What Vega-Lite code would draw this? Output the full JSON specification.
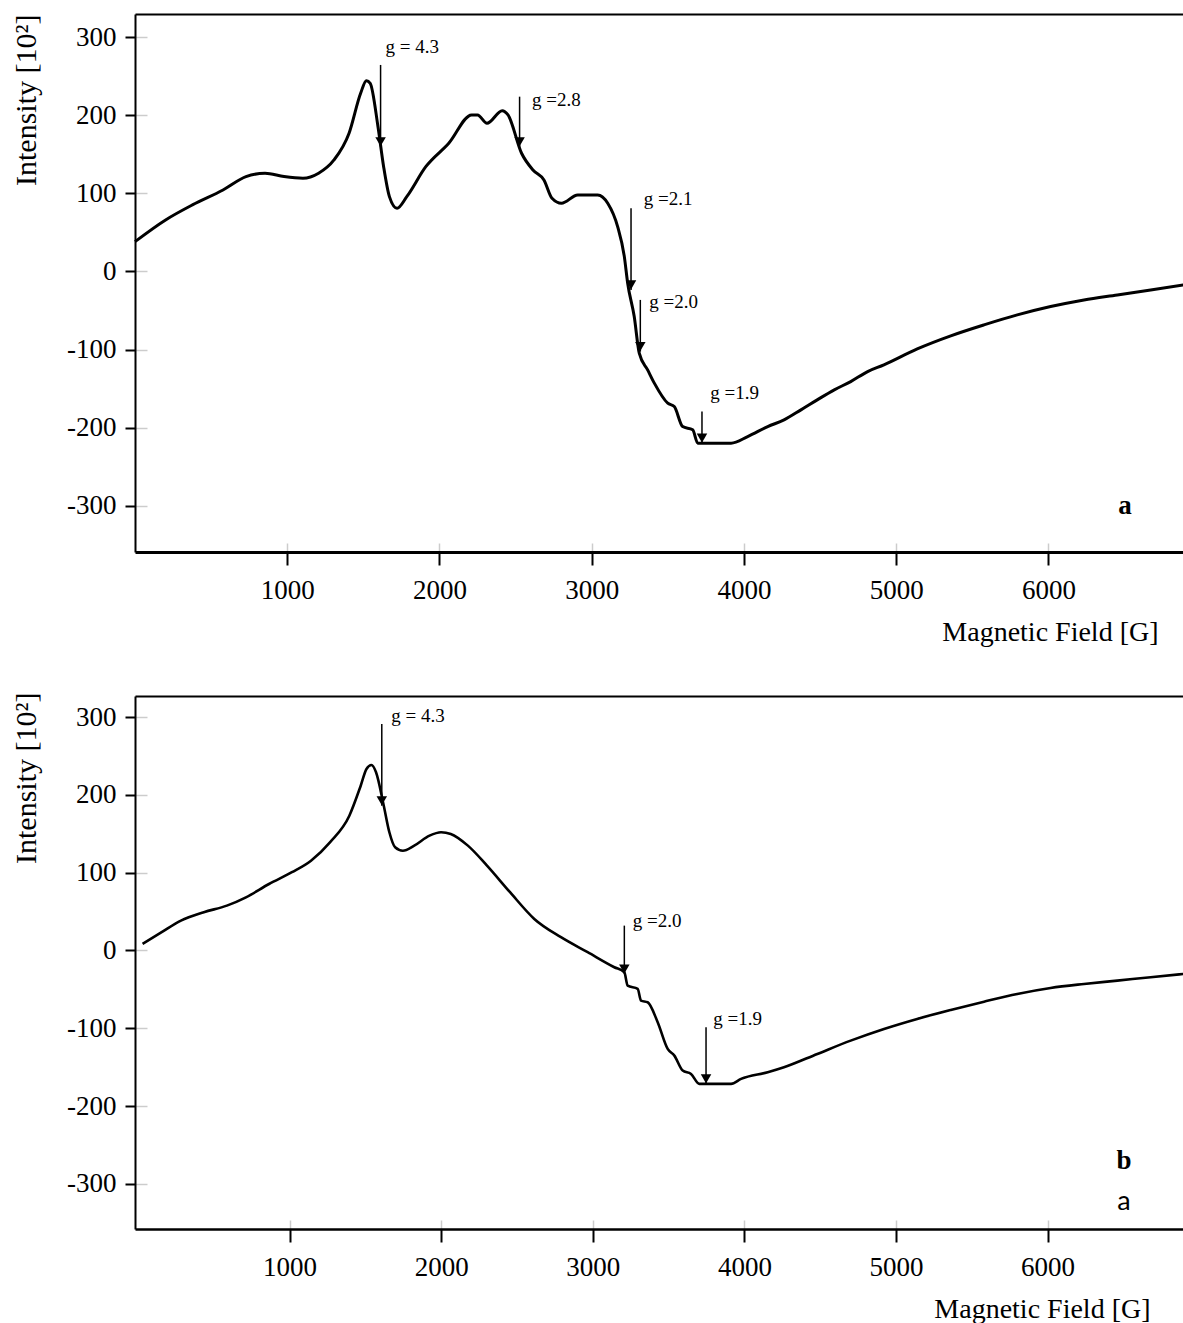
{
  "$schema": "https://vega.github.io/schema/vega-lite/v6.json",
  "background": "white",
  "padding": {"left": 10, "top": 14, "right": 0, "bottom": 0},
  "spacing": 46,
  "config": {"view": {"stroke": null}},
  "datasets": {
    "curveA": [
      {"B":0,"I":38.2},{"B":201,"I":66.0},{"B":377,"I":85.2},{"B":578,"I":104.3},{"B":729,"I":121.4},{"B":854,"I":125.7},{"B":979,"I":121.4},{"B":1103,"I":119.3},{"B":1206,"I":125.7},{"B":1307,"I":142.7},{"B":1406,"I":176.9},{"B":1482,"I":228.1},{"B":1520,"I":244.2},{"B":1545,"I":240.8},{"B":1596,"I":185.3},{"B":1633,"I":134.1},{"B":1671,"I":95.8},{"B":1721,"I":80.9},{"B":1785,"I":95.8},{"B":1910,"I":134.1},{"B":2061,"I":164.1},{"B":2211,"I":200.3},{"B":2250,"I":200.3},{"B":2312,"I":189.7},{"B":2412,"I":205.8},{"B":2450,"I":200.3},{"B":2539,"I":151.3},{"B":2614,"I":129.9},{"B":2686,"I":117.1},{"B":2739,"I":93.7},{"B":2801,"I":87.3},{"B":2908,"I":97.9},{"B":3039,"I":97.9},{"B":3105,"I":87.3},{"B":3170,"I":57.4},{"B":3214,"I":19.0},{"B":3236,"I":-15.0},{"B":3279,"I":-57.7},{"B":3312,"I":-104.6},{"B":3367,"I":-125.9},{"B":3411,"I":-142.9},{"B":3499,"I":-168.5},{"B":3542,"I":-172.9},{"B":3597,"I":-198.5},{"B":3663,"I":-202.7},{"B":3696,"I":-219.7},{"B":3915,"I":-219.7},{"B":4024,"I":-211.3},{"B":4156,"I":-198.5},{"B":4263,"I":-189.9},{"B":4374,"I":-177.1},{"B":4481,"I":-164.3},{"B":4593,"I":-151.5},{"B":4701,"I":-140.9},{"B":4812,"I":-128.1},{"B":4919,"I":-119.5},{"B":5138,"I":-99.1},{"B":5358,"I":-82.4},{"B":5576,"I":-68.4},{"B":5795,"I":-55.6},{"B":6014,"I":-44.9},{"B":6233,"I":-36.4},{"B":6452,"I":-30.0},{"B":6671,"I":-23.6},{"B":6890,"I":-17.2}
    ],
    "curveB": [
      {"B":30,"I":8.3},{"B":156,"I":23.4},{"B":283,"I":38.3},{"B":434,"I":49.1},{"B":586,"I":57.6},{"B":712,"I":68.3},{"B":864,"I":85.4},{"B":1015,"I":100.5},{"B":1141,"I":115.4},{"B":1266,"I":139.0},{"B":1394,"I":173.2},{"B":1469,"I":211.7},{"B":1507,"I":233.2},{"B":1540,"I":238.3},{"B":1570,"I":229.0},{"B":1621,"I":186.0},{"B":1658,"I":151.9},{"B":1696,"I":132.6},{"B":1747,"I":128.2},{"B":1822,"I":134.7},{"B":1923,"I":147.5},{"B":1999,"I":151.9},{"B":2063,"I":149.7},{"B":2176,"I":134.7},{"B":2302,"I":109.0},{"B":2454,"I":74.8},{"B":2614,"I":40.5},{"B":2790,"I":17.0},{"B":2966,"I":-2.3},{"B":3142,"I":-21.6},{"B":3208,"I":-28.0},{"B":3230,"I":-45.2},{"B":3296,"I":-49.5},{"B":3318,"I":-64.5},{"B":3362,"I":-66.6},{"B":3428,"I":-92.3},{"B":3494,"I":-126.6},{"B":3538,"I":-135.2},{"B":3593,"I":-154.4},{"B":3648,"I":-158.7},{"B":3703,"I":-171.5},{"B":3912,"I":-171.5},{"B":3978,"I":-165.1},{"B":4154,"I":-156.5},{"B":4261,"I":-150.1},{"B":4481,"I":-133.0},{"B":4701,"I":-115.9},{"B":4921,"I":-100.9},{"B":5140,"I":-88.0},{"B":5361,"I":-76.5},{"B":5581,"I":-65.8},{"B":5800,"I":-55.9},{"B":6020,"I":-48.2},{"B":6240,"I":-43.1},{"B":6460,"I":-38.8},{"B":6680,"I":-34.4},{"B":6900,"I":-30.2}
    ],
    "annA": [
      {"label":"g = 4.3","x":1613,"top":264.3,"tip":159.7,"tx":1646,"ty":287.7},
      {"label":"g =2.8","x":2526,"top":223.7,"tip":159.7,"tx":2608,"ty":219.5},
      {"label":"g =2.1","x":3258,"top":80.9,"tip":-23.6,"tx":3341,"ty":92.4},
      {"label":"g =2.0","x":3319,"top":-36.4,"tip":-102.5,"tx":3378,"ty":-38.5},
      {"label":"g =1.9","x":3724,"top":-179.3,"tip":-219.7,"tx":3779,"ty":-155.7}
    ],
    "annB": [
      {"label":"g = 4.3","x":1608,"top":291.0,"tip":186.0,"tx":1671,"ty":301.7},
      {"label":"g =2.0","x":3208,"top":31.9,"tip":-30.2,"tx":3263,"ty":38.3},
      {"label":"g =1.9","x":3747,"top":-98.7,"tip":-171.5,"tx":3795,"ty":-88.0}
    ],
    "tagA": [{"t":"a","x":6502,"y":-299.9}],
    "tagB": [{"t":"b","x":6504,"y":-270.1}],
    "tagB2": [{"t":"a","x":6504,"y":-323.2}]
  },
  "vconcat": [
    {
      "width": 1049,
      "height": 538,
      "resolve": {"axis": {"x": "independent", "y": "independent"}},
      "layer": [
        {
          "data": {"name": "curveA"},
          "mark": {"type": "line", "color": "black", "strokeWidth": 3, "strokeJoin": "round", "interpolate": "monotone"},
          "encoding": {
            "x": {"field": "B", "type": "quantitative", "scale": {"domain": [0, 6890], "nice": false, "zero": false},
              "axis": {"orient": "bottom", "values": [1000,2000,3000,4000,5000,6000], "format": "d",
                "title": "Magnetic Field [G]", "titleAnchor": "end", "titleAlign": "right", "titleX": 1023, "titleY": 88, "titleBaseline": "alphabetic",
                "titleFont": "Liberation Serif", "titleFontSize": 28, "titleFontWeight": "normal", "titleColor": "black",
                "labelFont": "Liberation Serif", "labelFontSize": 27, "labelColor": "black", "labelPadding": 12,
                "tickSize": 13, "tickWidth": 2, "tickColor": "black", "domainColor": "black", "domainWidth": 3,
                "grid": true, "gridColor": "#cccccc", "gridWidth": 1.5, "gridDash": [9, 529], "gridDashOffset": 9}},
            "y": {"field": "I", "type": "quantitative", "scale": {"domain": [-359, 329.5], "nice": false, "zero": false},
              "axis": {"orient": "left", "values": [-300,-200,-100,0,100,200,300], "labelExpr": "'' + datum.value",
                "title": "Intensity [10²]", "titleAnchor": "end", "titleX": -109, "titleBaseline": "middle",
                "titleFont": "Liberation Serif", "titleFontSize": 30, "titleFontWeight": "normal", "titleColor": "black",
                "labelFont": "Liberation Serif", "labelFontSize": 27, "labelColor": "black", "labelPadding": 9,
                "tickSize": 10, "tickWidth": 2, "tickColor": "black", "domainColor": "black", "domainWidth": 2,
                "grid": true, "gridColor": "#cccccc", "gridWidth": 1.5, "gridDash": [12, 3000]}}
          }
        },
        {
          "data": {"name": "annA"},
          "mark": {"type": "rule", "color": "black", "strokeWidth": 1.5},
          "encoding": {
            "x": {"field": "x", "type": "quantitative", "axis": {"orient": "top", "labels": false, "ticks": false, "grid": false, "title": null, "domainColor": "black", "domainWidth": 2}},
            "y": {"field": "top", "type": "quantitative", "axis": null},
            "y2": {"field": "tip"}
          }
        },
        {
          "data": {"name": "annA"},
          "mark": {"type": "point", "shape": "triangle-down", "filled": true, "color": "black", "opacity": 1, "size": 110, "yOffset": -5},
          "encoding": {
            "x": {"field": "x", "type": "quantitative", "axis": null},
            "y": {"field": "tip", "type": "quantitative", "axis": null}
          }
        },
        {
          "data": {"name": "annA"},
          "mark": {"type": "text", "font": "Liberation Serif", "fontSize": 19, "align": "left", "baseline": "middle", "color": "black"},
          "encoding": {
            "x": {"field": "tx", "type": "quantitative", "axis": null},
            "y": {"field": "ty", "type": "quantitative", "axis": null},
            "text": {"field": "label"}
          }
        },
        {
          "data": {"name": "tagA"},
          "mark": {"type": "text", "font": "Liberation Serif", "fontSize": 27, "fontWeight": "bold", "align": "center", "baseline": "middle", "color": "black"},
          "encoding": {
            "x": {"field": "x", "type": "quantitative", "axis": null},
            "y": {"field": "y", "type": "quantitative", "axis": null},
            "text": {"field": "t"}
          }
        }
      ]
    },
    {
      "width": 1049,
      "height": 533,
      "resolve": {"axis": {"x": "independent", "y": "independent"}},
      "layer": [
        {
          "data": {"name": "curveB"},
          "mark": {"type": "line", "color": "black", "strokeWidth": 2.6, "strokeJoin": "round", "interpolate": "monotone"},
          "encoding": {
            "x": {"field": "B", "type": "quantitative", "scale": {"domain": [-20, 6900], "nice": false, "zero": false},
              "axis": {"orient": "bottom", "values": [1000,2000,3000,4000,5000,6000], "format": "d",
                "title": "Magnetic Field [G]", "titleAnchor": "end", "titleAlign": "right", "titleX": 1015, "titleY": 88, "titleBaseline": "alphabetic",
                "titleFont": "Liberation Serif", "titleFontSize": 28, "titleFontWeight": "normal", "titleColor": "black",
                "labelFont": "Liberation Serif", "labelFontSize": 27, "labelColor": "black", "labelPadding": 12,
                "tickSize": 13, "tickWidth": 2, "tickColor": "black", "domainColor": "black", "domainWidth": 2.5,
                "grid": true, "gridColor": "#cccccc", "gridWidth": 1.5, "gridDash": [9, 524], "gridDashOffset": 9}},
            "y": {"field": "I", "type": "quantitative", "scale": {"domain": [-358, 327], "nice": false, "zero": false},
              "axis": {"orient": "left", "values": [-300,-200,-100,0,100,200,300], "labelExpr": "'' + datum.value",
                "title": "Intensity [10²]", "titleAnchor": "end", "titleX": -109, "titleY": -4, "titleBaseline": "middle",
                "titleFont": "Liberation Serif", "titleFontSize": 30, "titleFontWeight": "normal", "titleColor": "black",
                "labelFont": "Liberation Serif", "labelFontSize": 27, "labelColor": "black", "labelPadding": 9,
                "tickSize": 10, "tickWidth": 2, "tickColor": "black", "domainColor": "black", "domainWidth": 2,
                "grid": true, "gridColor": "#cccccc", "gridWidth": 1.5, "gridDash": [12, 3000]}}
          }
        },
        {
          "data": {"name": "annB"},
          "mark": {"type": "rule", "color": "black", "strokeWidth": 1.5},
          "encoding": {
            "x": {"field": "x", "type": "quantitative", "axis": {"orient": "top", "labels": false, "ticks": false, "grid": false, "title": null, "domainColor": "black", "domainWidth": 2}},
            "y": {"field": "top", "type": "quantitative", "axis": null},
            "y2": {"field": "tip"}
          }
        },
        {
          "data": {"name": "annB"},
          "mark": {"type": "point", "shape": "triangle-down", "filled": true, "color": "black", "opacity": 1, "size": 110, "yOffset": -5},
          "encoding": {
            "x": {"field": "x", "type": "quantitative", "axis": null},
            "y": {"field": "tip", "type": "quantitative", "axis": null}
          }
        },
        {
          "data": {"name": "annB"},
          "mark": {"type": "text", "font": "Liberation Serif", "fontSize": 19, "align": "left", "baseline": "middle", "color": "black"},
          "encoding": {
            "x": {"field": "tx", "type": "quantitative", "axis": null},
            "y": {"field": "ty", "type": "quantitative", "axis": null},
            "text": {"field": "label"}
          }
        },
        {
          "data": {"name": "tagB"},
          "mark": {"type": "text", "font": "Liberation Serif", "fontSize": 27, "fontWeight": "bold", "align": "center", "baseline": "middle", "color": "black"},
          "encoding": {
            "x": {"field": "x", "type": "quantitative", "axis": null},
            "y": {"field": "y", "type": "quantitative", "axis": null},
            "text": {"field": "t"}
          }
        },
        {
          "data": {"name": "tagB2"},
          "mark": {"type": "text", "font": "Lato", "fontSize": 27, "align": "center", "baseline": "middle", "color": "black"},
          "encoding": {
            "x": {"field": "x", "type": "quantitative", "axis": null},
            "y": {"field": "y", "type": "quantitative", "axis": null},
            "text": {"field": "t"}
          }
        }
      ]
    }
  ]
}
